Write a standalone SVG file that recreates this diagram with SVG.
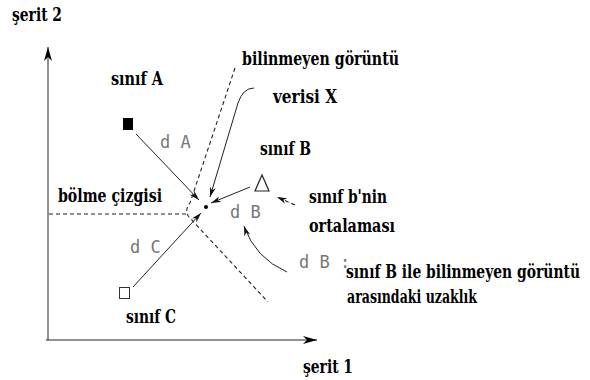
<svg xmlns="http://www.w3.org/2000/svg" width="590" height="380" viewBox="0 0 590 380">
<style>
.t{font-family:'DejaVu Serif','Liberation Serif','Times New Roman',serif;font-weight:bold;font-size:18px;fill:#000}
.d{font-family:'DejaVu Sans Mono','Liberation Mono',monospace;font-size:17px;fill:#777}
.ln{fill:none;stroke:#222;stroke-width:1}
.ds{fill:none;stroke:#222;stroke-width:1.1;stroke-dasharray:4 3}
</style>
<defs>
<marker id="ah" viewBox="0 0 10 6" refX="10" refY="3" markerWidth="10" markerHeight="6" markerUnits="userSpaceOnUse" orient="auto">
<path d="M0,0 L10,3 L0,6 L3,3 Z" fill="#111"/>
</marker>
<marker id="ax" viewBox="0 0 14 8" refX="14" refY="4" markerWidth="14" markerHeight="8" markerUnits="userSpaceOnUse" orient="auto">
<path d="M0,0 L14,4 L0,8 L4,4 Z" fill="#000"/>
</marker>
</defs>
<rect width="590" height="380" fill="#fff"/>
<g id="axes">
<line class="ln" x1="48" y1="340" x2="48" y2="47" marker-end="url(#ax)"/>
<line class="ln" x1="46" y1="340" x2="317" y2="340" marker-end="url(#ax)"/>
<text class="t" x="12" y="21" textLength="50" lengthAdjust="spacingAndGlyphs">şerit 2</text>
<text class="t" x="303" y="373" textLength="50" lengthAdjust="spacingAndGlyphs">şerit 1</text>
</g>
<g id="connectors">
<line class="ln" x1="136" y1="134" x2="199" y2="200" marker-end="url(#ah)"/>
<path class="ln" d="M254,88 Q243,88 238,103 L210,197" marker-end="url(#ah)"/>
<line class="ln" x1="250" y1="187" x2="211" y2="203" marker-end="url(#ah)"/>
<line class="ln" x1="133" y1="287" x2="201" y2="213" marker-end="url(#ah)"/>
<line class="ds" x1="295" y1="205" x2="277" y2="197" marker-end="url(#ah)"/>
<path class="ln" d="M287,272 Q255,258 244,226" marker-end="url(#ah)"/>
</g>
<g id="boundary">
<path class="ds" d="M235,68 L190,203 Q184,210 189,217 L268,302"/>
<line class="ds" x1="49" y1="214" x2="186" y2="214"/>
<text class="t" x="58" y="202" textLength="104" lengthAdjust="spacingAndGlyphs">bölme çizgisi</text>
</g>
<g id="classA">
<rect x="123" y="118" width="10" height="12" fill="#000"/>
<text class="t" x="111" y="85" textLength="52" lengthAdjust="spacingAndGlyphs">sınıf A</text>
<text class="d" x="160" y="148">d A</text>
</g>
<g id="pointX">
<circle cx="206" cy="207" r="2" fill="#000"/>
<text class="t" x="242" y="65" textLength="157" lengthAdjust="spacingAndGlyphs">bilinmeyen görüntü</text>
<text class="t" x="273" y="103" textLength="64" lengthAdjust="spacingAndGlyphs">verisi X</text>
</g>
<g id="classB">
<path d="M262,175 L269,191 L255,191 Z" fill="none" stroke="#222" stroke-width="1.2"/>
<text class="t" x="260" y="155" textLength="51" lengthAdjust="spacingAndGlyphs">sınıf B</text>
<text class="d" x="230" y="218">d B</text>
<text class="t" x="309" y="203" textLength="78" lengthAdjust="spacingAndGlyphs">sınıf b'nin</text>
<text class="t" x="309" y="232" textLength="86" lengthAdjust="spacingAndGlyphs">ortalaması</text>
</g>
<g id="legend">
<text class="d" x="299" y="268">d B :</text>
<g transform="translate(346,278) scale(0.78,1)">
<text class="t" x="0" y="0" textLength="300" lengthAdjust="spacingAndGlyphs">sınıf B ile bilinmeyen görüntü</text>
</g>
<text class="t" x="347" y="303" textLength="130" lengthAdjust="spacingAndGlyphs">arasındaki uzaklık</text>
</g>
<g id="classC">
<rect x="119.5" y="287.5" width="10" height="11" fill="none" stroke="#333" stroke-width="1"/>
<text class="t" x="126" y="323" textLength="50" lengthAdjust="spacingAndGlyphs">sınıf C</text>
<text class="d" x="130" y="253">d C</text>
</g>
</svg>
